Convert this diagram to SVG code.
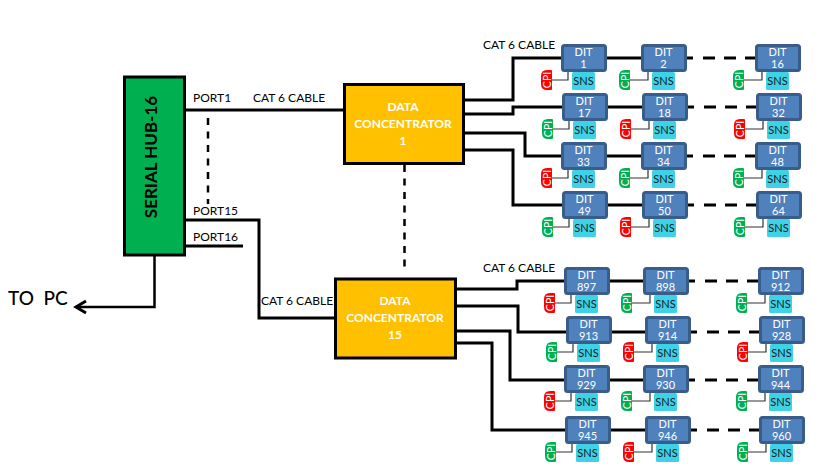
<svg xmlns="http://www.w3.org/2000/svg" width="826" height="475" viewBox="0 0 826 475">
<style>
text{font-family:Lato,"Liberation Sans",sans-serif;fill:#000}
.wire{fill:none;stroke:#000;stroke-width:3}
.thin{stroke-width:2.5}
.chain{stroke-dasharray:6 10 12 9 12 9 12 9}
.drop{fill:none;stroke:#000;stroke-width:2.500;stroke-dasharray:7 6.500}
.label{font-size:12px}
.frame{fill:#4F81BD;stroke:#385D8A;stroke-width:3}
.sns{fill:#3FD2E6}
.link{fill:none;stroke:#333;stroke-width:1.2}
.t{font-size:11px;fill:#fff;text-anchor:middle}
.s{font-size:11px;fill:#10202a;text-anchor:middle}
.c{font-size:10.500px;fill:#fff;text-anchor:middle}
.dc{fill:#FFC000;stroke:#000;stroke-width:3}
.dct{font-size:12px;font-weight:700;fill:#fff;text-anchor:middle}
</style>
<defs>
<g id="dit-body">
<rect class="sns" x="11" y="28" width="23" height="18" rx="1.5"/>
<rect class="frame" x="1.5" y="1.5" width="43" height="25" rx="2"/>
</g>
<path id="cpi-red" fill="#FF0000" d="M11 1Q11 0 10 0H6Q0 0 0 6V14Q0 20 6 20H10Q11 20 11 19Z"/>
<path id="cpi-green" fill="#00B050" d="M11 1Q11 0 10 0H6Q0 0 0 6V14Q0 20 6 20H10Q11 20 11 19Z"/>
</defs>

<g id="connectors">
<path class="wire" d="M185 110H344"/>
<path class="wire" d="M185 220H259V318H335"/>
<path class="wire" d="M185 246H243"/>
<path class="wire thin" d="M154.500 255V307H77"/>
<path class="wire" d="M86 301L76 307L86 313"/>
<path class="drop" d="M208 118V204"/>
<path class="drop" d="M404.500 165V270"/>
<path class="wire" d="M464 100H513V58H561"/>
<path class="wire" d="M464 114H513V107H562"/>
<path class="wire" d="M464 133H525V156H561"/>
<path class="wire" d="M464 150H513V205H562"/>
<path class="wire" d="M456 289H517V281H564"/>
<path class="wire" d="M456 306H518V332H566"/>
<path class="wire" d="M456 331H510V380H564"/>
<path class="wire" d="M456 343H492V430H565"/>
<path class="wire" d="M607 58H641"/>
<path class="wire" d="M608 107H642"/>
<path class="wire" d="M607 156H641"/>
<path class="wire" d="M608 205H642"/>
<path class="wire" d="M610 281H643"/>
<path class="wire" d="M612 332H645"/>
<path class="wire" d="M610 380H643"/>
<path class="wire" d="M611 430H645"/>
<path class="wire chain" d="M687 58H755"/>
<path class="wire chain" d="M688 107H756"/>
<path class="wire chain" d="M687 156H755"/>
<path class="wire chain" d="M688 205H756"/>
<path class="wire chain" d="M689 281H758"/>
<path class="wire chain" d="M691 332H759"/>
<path class="wire chain" d="M689 380H758"/>
<path class="wire chain" d="M691 430H759"/>
</g>

<g id="labels">
<text class="label" x="193" y="102">PORT1</text>
<text class="label" x="193" y="215">PORT15</text>
<text class="label" x="193" y="241">PORT16</text>
<text class="label" x="253" y="102">CAT 6 CABLE</text>
<text class="label" x="261" y="305">CAT 6 CABLE</text>
<text class="label" x="483" y="49">CAT 6 CABLE</text>
<text class="label" x="483" y="272">CAT 6 CABLE</text>
<text x="8" y="305" font-size="19" font-weight="500" style="white-space:pre">TO  PC</text>
</g>

<g id="serial-hub">
<rect x="124.500" y="77" width="60" height="178" fill="#00B050" stroke="#000" stroke-width="3"/>
<text transform="translate(156.500 157) rotate(-90)" font-size="17" font-weight="700" text-anchor="middle">SERIAL HUB-16</text>
</g>

<g id="concentrator-1">
<rect class="dc" x="344.500" y="84.500" width="119" height="79"/>
<text class="dct" x="403" y="111">DATA</text>
<text class="dct" x="403" y="128">CONCENTRATOR</text>
<text class="dct" x="403" y="145">1</text>
</g>
<g id="concentrator-15">
<rect class="dc" x="335.500" y="279" width="120" height="79"/>
<text class="dct" x="395" y="305">DATA</text>
<text class="dct" x="395" y="322">CONCENTRATOR</text>
<text class="dct" x="395" y="339">15</text>
</g>

<g id="dit-1" transform="translate(561 44)"><use href="#dit-body"/><path class="link" d="M7 28V36H-9"/><use href="#cpi-red" x="-20" y="26"/><text class="t" x="22.500" y="12">DIT</text><text class="t" x="22.500" y="24">1</text><text class="s" x="22.500" y="41">SNS</text><text class="c" transform="translate(-10.500 36) rotate(-90)">CPI</text></g>
<g id="dit-2" transform="translate(641 44)"><use href="#dit-body"/><path class="link" d="M7 28V36H-11"/><use href="#cpi-green" x="-22" y="26"/><text class="t" x="22.500" y="12">DIT</text><text class="t" x="22.500" y="24">2</text><text class="s" x="22.500" y="41">SNS</text><text class="c" transform="translate(-12.500 36) rotate(-90)">CPI</text></g>
<g id="dit-16" transform="translate(755 44)"><use href="#dit-body"/><path class="link" d="M7 28V36H-11"/><use href="#cpi-green" x="-22" y="26"/><text class="t" x="22.500" y="12">DIT</text><text class="t" x="22.500" y="24">16</text><text class="s" x="22.500" y="41">SNS</text><text class="c" transform="translate(-12.500 36) rotate(-90)">CPI</text></g>

<g id="dit-17" transform="translate(562 93)"><use href="#dit-body"/><path class="link" d="M7 28V36H-9"/><use href="#cpi-green" x="-20" y="26"/><text class="t" x="22.500" y="12">DIT</text><text class="t" x="22.500" y="24">17</text><text class="s" x="22.500" y="41">SNS</text><text class="c" transform="translate(-10.500 36) rotate(-90)">CPI</text></g>
<g id="dit-18" transform="translate(642 93)"><use href="#dit-body"/><path class="link" d="M7 28V36H-11"/><use href="#cpi-red" x="-22" y="26"/><text class="t" x="22.500" y="12">DIT</text><text class="t" x="22.500" y="24">18</text><text class="s" x="22.500" y="41">SNS</text><text class="c" transform="translate(-12.500 36) rotate(-90)">CPI</text></g>
<g id="dit-32" transform="translate(756 93)"><use href="#dit-body"/><path class="link" d="M7 28V36H-11"/><use href="#cpi-red" x="-22" y="26"/><text class="t" x="22.500" y="12">DIT</text><text class="t" x="22.500" y="24">32</text><text class="s" x="22.500" y="41">SNS</text><text class="c" transform="translate(-12.500 36) rotate(-90)">CPI</text></g>

<g id="dit-33" transform="translate(561 142)"><use href="#dit-body"/><path class="link" d="M7 28V36H-9"/><use href="#cpi-red" x="-20" y="26"/><text class="t" x="22.500" y="12">DIT</text><text class="t" x="22.500" y="24">33</text><text class="s" x="22.500" y="41">SNS</text><text class="c" transform="translate(-10.500 36) rotate(-90)">CPI</text></g>
<g id="dit-34" transform="translate(641 142)"><use href="#dit-body"/><path class="link" d="M7 28V36H-11"/><use href="#cpi-green" x="-22" y="26"/><text class="t" x="22.500" y="12">DIT</text><text class="t" x="22.500" y="24">34</text><text class="s" x="22.500" y="41">SNS</text><text class="c" transform="translate(-12.500 36) rotate(-90)">CPI</text></g>
<g id="dit-48" transform="translate(755 142)"><use href="#dit-body"/><path class="link" d="M7 28V36H-11"/><use href="#cpi-green" x="-22" y="26"/><text class="t" x="22.500" y="12">DIT</text><text class="t" x="22.500" y="24">48</text><text class="s" x="22.500" y="41">SNS</text><text class="c" transform="translate(-12.500 36) rotate(-90)">CPI</text></g>

<g id="dit-49" transform="translate(562 191)"><use href="#dit-body"/><path class="link" d="M7 28V36H-9"/><use href="#cpi-green" x="-20" y="26"/><text class="t" x="22.500" y="12">DIT</text><text class="t" x="22.500" y="24">49</text><text class="s" x="22.500" y="41">SNS</text><text class="c" transform="translate(-10.500 36) rotate(-90)">CPI</text></g>
<g id="dit-50" transform="translate(642 191)"><use href="#dit-body"/><path class="link" d="M7 28V36H-11"/><use href="#cpi-red" x="-22" y="26"/><text class="t" x="22.500" y="12">DIT</text><text class="t" x="22.500" y="24">50</text><text class="s" x="22.500" y="41">SNS</text><text class="c" transform="translate(-12.500 36) rotate(-90)">CPI</text></g>
<g id="dit-64" transform="translate(756 191)"><use href="#dit-body"/><path class="link" d="M7 28V36H-11"/><use href="#cpi-green" x="-22" y="26"/><text class="t" x="22.500" y="12">DIT</text><text class="t" x="22.500" y="24">64</text><text class="s" x="22.500" y="41">SNS</text><text class="c" transform="translate(-12.500 36) rotate(-90)">CPI</text></g>

<g id="dit-897" transform="translate(564 267)"><use href="#dit-body"/><path class="link" d="M7 28V36H-9"/><use href="#cpi-red" x="-20" y="26"/><text class="t" x="22.500" y="12">DIT</text><text class="t" x="22.500" y="24">897</text><text class="s" x="22.500" y="41">SNS</text><text class="c" transform="translate(-10.500 36) rotate(-90)">CPI</text></g>
<g id="dit-898" transform="translate(643 267)"><use href="#dit-body"/><path class="link" d="M7 28V36H-11"/><use href="#cpi-green" x="-22" y="26"/><text class="t" x="22.500" y="12">DIT</text><text class="t" x="22.500" y="24">898</text><text class="s" x="22.500" y="41">SNS</text><text class="c" transform="translate(-12.500 36) rotate(-90)">CPI</text></g>
<g id="dit-912" transform="translate(758 267)"><use href="#dit-body"/><path class="link" d="M7 28V36H-11"/><use href="#cpi-green" x="-22" y="26"/><text class="t" x="22.500" y="12">DIT</text><text class="t" x="22.500" y="24">912</text><text class="s" x="22.500" y="41">SNS</text><text class="c" transform="translate(-12.500 36) rotate(-90)">CPI</text></g>

<g id="dit-913" transform="translate(566 316)"><use href="#dit-body"/><path class="link" d="M7 28V36H-9"/><use href="#cpi-green" x="-20" y="26"/><text class="t" x="22.500" y="12">DIT</text><text class="t" x="22.500" y="24">913</text><text class="s" x="22.500" y="41">SNS</text><text class="c" transform="translate(-10.500 36) rotate(-90)">CPI</text></g>
<g id="dit-914" transform="translate(645 316)"><use href="#dit-body"/><path class="link" d="M7 28V36H-11"/><use href="#cpi-red" x="-22" y="26"/><text class="t" x="22.500" y="12">DIT</text><text class="t" x="22.500" y="24">914</text><text class="s" x="22.500" y="41">SNS</text><text class="c" transform="translate(-12.500 36) rotate(-90)">CPI</text></g>
<g id="dit-928" transform="translate(759 316)"><use href="#dit-body"/><path class="link" d="M7 28V36H-11"/><use href="#cpi-red" x="-22" y="26"/><text class="t" x="22.500" y="12">DIT</text><text class="t" x="22.500" y="24">928</text><text class="s" x="22.500" y="41">SNS</text><text class="c" transform="translate(-12.500 36) rotate(-90)">CPI</text></g>

<g id="dit-929" transform="translate(564 365)"><use href="#dit-body"/><path class="link" d="M7 28V36H-9"/><use href="#cpi-red" x="-20" y="26"/><text class="t" x="22.500" y="12">DIT</text><text class="t" x="22.500" y="24">929</text><text class="s" x="22.500" y="41">SNS</text><text class="c" transform="translate(-10.500 36) rotate(-90)">CPI</text></g>
<g id="dit-930" transform="translate(643 365)"><use href="#dit-body"/><path class="link" d="M7 28V36H-11"/><use href="#cpi-green" x="-22" y="26"/><text class="t" x="22.500" y="12">DIT</text><text class="t" x="22.500" y="24">930</text><text class="s" x="22.500" y="41">SNS</text><text class="c" transform="translate(-12.500 36) rotate(-90)">CPI</text></g>
<g id="dit-944" transform="translate(758 365)"><use href="#dit-body"/><path class="link" d="M7 28V36H-11"/><use href="#cpi-green" x="-22" y="26"/><text class="t" x="22.500" y="12">DIT</text><text class="t" x="22.500" y="24">944</text><text class="s" x="22.500" y="41">SNS</text><text class="c" transform="translate(-12.500 36) rotate(-90)">CPI</text></g>

<g id="dit-945" transform="translate(565 416)"><use href="#dit-body"/><path class="link" d="M7 28V36H-9"/><use href="#cpi-green" x="-20" y="26"/><text class="t" x="22.500" y="12">DIT</text><text class="t" x="22.500" y="24">945</text><text class="s" x="22.500" y="41">SNS</text><text class="c" transform="translate(-10.500 36) rotate(-90)">CPI</text></g>
<g id="dit-946" transform="translate(645 416)"><use href="#dit-body"/><path class="link" d="M7 28V36H-11"/><use href="#cpi-red" x="-22" y="26"/><text class="t" x="22.500" y="12">DIT</text><text class="t" x="22.500" y="24">946</text><text class="s" x="22.500" y="41">SNS</text><text class="c" transform="translate(-12.500 36) rotate(-90)">CPI</text></g>
<g id="dit-960" transform="translate(759 416)"><use href="#dit-body"/><path class="link" d="M7 28V36H-11"/><use href="#cpi-green" x="-22" y="26"/><text class="t" x="22.500" y="12">DIT</text><text class="t" x="22.500" y="24">960</text><text class="s" x="22.500" y="41">SNS</text><text class="c" transform="translate(-12.500 36) rotate(-90)">CPI</text></g>
</svg>
